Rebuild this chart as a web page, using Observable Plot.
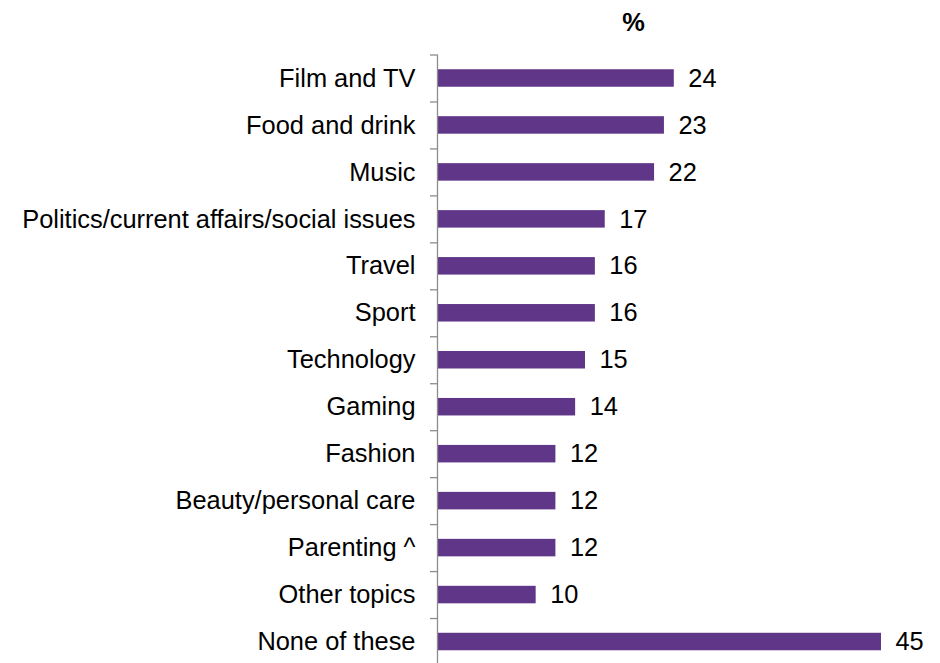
<!DOCTYPE html>
<html>
<head>
<meta charset="utf-8">
<script src="https://cdn.jsdelivr.net/npm/d3@7"></script>
<script src="https://cdn.jsdelivr.net/npm/@observablehq/plot@0.6"></script>
<style>
  html, body { margin: 0; padding: 0; background: #fff; overflow: hidden; }
  #chart svg { display: block; }
</style>
</head>
<body>
<div id="chart"></div>
<script>
const categories = [
  "Film and TV",
  "Food and drink",
  "Music",
  "Politics/current affairs/social issues",
  "Travel",
  "Sport",
  "Technology",
  "Gaming",
  "Fashion",
  "Beauty/personal care",
  "Parenting ^",
  "Other topics",
  "None of these"
];
const values = [24, 23, 22, 17, 16, 16, 15, 14, 12, 12, 12, 10, 45];
const unitLabel = "%";

const data = categories.map((c, i) => ({category: c, value: values[i]}));

const width = 940, height = 665;
const marginTop = 54.5, marginBottom = 0, marginLeft = 437, marginRight = 59;
const step = (height - marginTop - marginBottom) / categories.length;
const barH = 17.5;
const inset = (step - barH) / 2;
const font = "'Liberation Sans', Arial, sans-serif";
const fs = 25.4;

const chart = Plot.plot({
  width, height, marginTop, marginBottom, marginLeft, marginRight,
  style: {fontFamily: font, fontSize: fs + "px", color: "#000", background: "#fff", overflow: "visible"},
  x: {domain: [0, 45], axis: null},
  y: {domain: categories, padding: 0, round: false, label: null},
  marks: [
    Plot.barX(data, {x: "value", y: "category", fill: "#603689", insetTop: inset, insetBottom: inset}),
    Plot.text(data, {x: "value", y: "category", text: d => String(d.value), textAnchor: "start", dx: 14, fontSize: fs, fill: "#000"}),
    Plot.axisY({tickSize: 0, tickPadding: 22, fontSize: fs, label: null, fill: "#000"}),
    Plot.ruleX([0], {stroke: "#8c8c8c", strokeWidth: 1.3}),
    Plot.ruleY(categories, {y: d => d, x1: 0, x2: 0, insetLeft: -7, dy: -step / 2, stroke: "#8c8c8c", strokeWidth: 1.3}),
    Plot.text([unitLabel], {frameAnchor: "top", dx: -26, dy: -32.5, lineAnchor: "middle", fontWeight: "bold", fontSize: fs, fill: "#000"})
  ]
});
document.getElementById("chart").appendChild(chart);
</script>
</body>
</html>
